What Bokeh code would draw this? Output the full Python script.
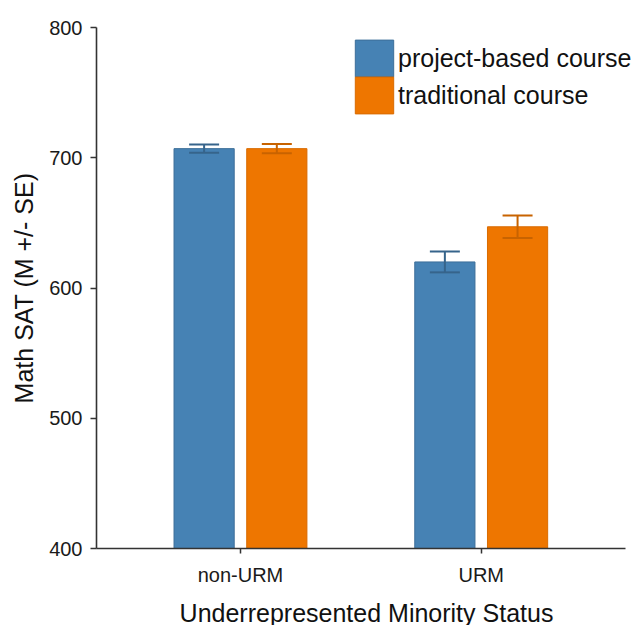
from bokeh.plotting import figure
from bokeh.models import ColumnDataSource, Range1d, Whisker, TeeHead, FixedTicker, Legend, LegendItem
from bokeh.transform import dodge
from bokeh.embed import file_html
from bokeh.resources import INLINE

categories = ["non-URM", "URM"]
series_names = ["project-based course", "traditional course"]
project_mean = [707, 620]
project_se = [3.1, 8.0]
traditional_mean = [707, 647]
traditional_se = [3.5, 8.6]
y_ticks = [400, 500, 600, 700, 800]

FONT = "Liberation Sans"
BLUE = "#4682B4"
BLUE_DARK = "#36648B"
ORANGE = "#EE7600"
ORANGE_DARK = "#C86300"

xs = list(range(len(categories)))

src_p = ColumnDataSource(dict(x=xs, mean=project_mean,
                              upper=[m + s for m, s in zip(project_mean, project_se)],
                              lower=[m - s for m, s in zip(project_mean, project_se)]))
src_t = ColumnDataSource(dict(x=xs, mean=traditional_mean,
                              upper=[m + s for m, s in zip(traditional_mean, traditional_se)],
                              lower=[m - s for m, s in zip(traditional_mean, traditional_se)]))

p = figure(x_range=Range1d(-0.598, 1.645), y_range=Range1d(400, 800),
           frame_width=540, frame_height=521, output_backend="svg", toolbar_location=None,
           min_border_left=96, min_border_top=27, min_border_bottom=75, min_border_right=0)

off = 0.151
w = 0.25
r1 = p.vbar(x=dodge("x", -off), top="mean", bottom=400, width=w, source=src_p,
            fill_color=BLUE, line_color="#3d6f99", line_width=1)
r2 = p.vbar(x=dodge("x", off), top="mean", bottom=400, width=w, source=src_t,
            fill_color=ORANGE, line_color="#d96b00", line_width=1)

for src, o, col in [(src_p, -off, BLUE_DARK), (src_t, off, ORANGE_DARK)]:
    wh = Whisker(base=dodge("x", o), upper="upper", lower="lower", source=src,
                 line_color=col, line_width=2, level="annotation",
                 upper_head=TeeHead(size=30, line_color=col, line_width=2),
                 lower_head=TeeHead(size=30, line_color=col, line_width=2))
    p.add_layout(wh)

p.xgrid.grid_line_color = None
p.ygrid.grid_line_color = None
p.outline_line_color = None
p.background_fill_color = "white"

for ax in (p.xaxis[0], p.yaxis[0]):
    ax.axis_line_color = "#333333"
    ax.axis_line_width = 1.6
    ax.major_tick_line_color = "#333333"
    ax.major_tick_line_width = 1.5
    ax.major_tick_in = 0
    ax.minor_tick_line_color = None
    ax.major_label_text_font = FONT
    ax.major_label_text_font_size = "20px"
    ax.major_label_text_color = "#1a1a1a"
    ax.axis_label_text_font = FONT
    ax.axis_label_text_font_size = "25px"
    ax.axis_label_text_font_style = "normal"
    ax.axis_label_text_color = "#111111"

p.xaxis.ticker = FixedTicker(ticks=xs)
p.xaxis.major_label_overrides = {i: c for i, c in zip(xs, categories)}
p.xaxis.bounds = (-0.598, 1.598)
p.yaxis.major_tick_out = 6
p.xaxis.major_tick_out = 5
p.yaxis.ticker = FixedTicker(ticks=y_ticks)
p.yaxis.axis_label = "Math SAT (M +/- SE)"
p.xaxis.axis_label = "Underrepresented Minority Status"
p.yaxis.major_label_standoff = 8
p.xaxis.major_label_standoff = 10
p.xaxis.axis_label_standoff = 10
p.yaxis.axis_label_standoff = 8

legend_style = dict(padding=0, margin=0, spacing=0,
                    glyph_width=48, glyph_height=46, label_height=37, label_standoff=0,
                    border_line_color=None, background_fill_alpha=0,
                    label_text_font=FONT, label_text_font_size="25px", label_text_color="#111111")
legend1 = Legend(items=[LegendItem(label=series_names[0], renderers=[r1])],
                 location=(254, 467), **legend_style)
legend2 = Legend(items=[LegendItem(label=series_names[1], renderers=[r2])],
                 location=(254, 430), **legend_style)
p.add_layout(legend1, "center")
p.add_layout(legend2, "center")

open("out.html", "w").write(file_html(p, INLINE))
